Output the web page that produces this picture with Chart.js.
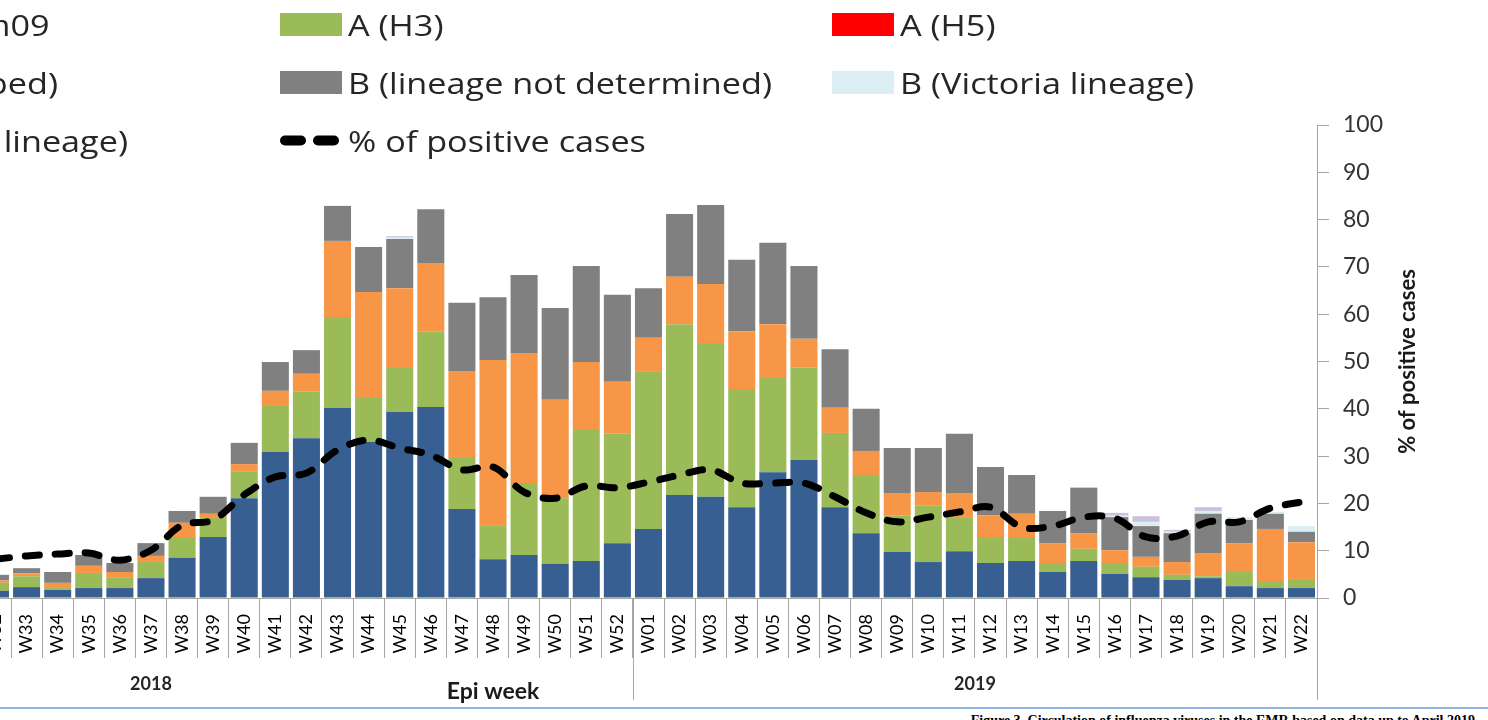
<!DOCTYPE html>
<html>
<head>
<meta charset="utf-8">
<title>Influenza viruses by epi week</title>
<script src="https://cdn.jsdelivr.net/npm/chart.js@4.4.1/dist/chart.umd.min.js"></script>
<style>
  html, body { margin: 0; padding: 0; background: #fff; }
  #wrap { position: relative; width: 1488px; height: 720px; overflow: hidden; font-family: Lato, sans-serif; }
  #myChart { position: absolute; left: -360px; top: 0; }
  #legend { position: absolute; left: 0; top: 0; width: 1488px; height: 170px; }
  .item { position: absolute; height: 30px; display: flex; align-items: center; white-space: nowrap; }
  .swatch { width: 62px; height: 23px; flex: none; }
  .label { margin-left: 6px; font-family: "Open Sans", sans-serif; font-size: 29px; color: #262626;
           transform: scaleX(1.18); transform-origin: left center; }
  #rule { position: absolute; left: 0; top: 707px; width: 1488px; height: 2px; background: #8db3e2; }
  #caption { position: absolute; right: 13px; top: 714px; font-family: "Liberation Serif", serif;
             font-weight: bold; font-size: 14px; line-height: 14px; color: #000; white-space: nowrap; }
</style>
</head>
<body>
<div id="wrap">
  <canvas id="myChart" width="1848" height="705"></canvas>
  <div id="legend"></div>
  <div id="rule"></div>
  <div id="caption">Figure 3. Circulation of influenza viruses in the EMR based on data up to April 2019</div>
</div>
<script>
// epi weeks 2018 W22 .. 2019 W22 (W22-W31 of 2018 are outside the picture, so no values)
const weekLabels = [
  'W22', 'W23', 'W24', 'W25', 'W26', 'W27', 'W28', 'W29', 'W30', 'W31',
  'W32', 'W33', 'W34', 'W35', 'W36', 'W37', 'W38', 'W39', 'W40', 'W41', 'W42',
  'W43', 'W44', 'W45', 'W46', 'W47', 'W48', 'W49', 'W50', 'W51', 'W52',
  'W01', 'W02', 'W03', 'W04', 'W05', 'W06', 'W07', 'W08', 'W09', 'W10', 'W11',
  'W12', 'W13', 'W14', 'W15', 'W16', 'W17', 'W18', 'W19', 'W20', 'W21', 'W22'
];
const yearLabels = ['2018', '2019'];
const yearWeekCounts = [31, 22];
const yTicks = [0, 100, 10];

const hidden = [null, null, null, null, null, null, null, null, null, null];

const h1n1 = hidden.concat([
  1.5, 2.3, 1.7, 2.1, 2.1, 4.2, 8.5, 12.9, 21.1, 30.9, 33.8,
  40.2, 33.0, 39.3, 40.4, 18.8, 8.2, 9.1, 7.2, 7.8, 11.6,
  14.6, 21.8, 21.4, 19.2, 26.6, 29.2, 19.2, 13.7, 9.7, 7.6, 9.9,
  7.4, 7.8, 5.5, 7.8, 5.1, 4.4, 3.8, 4.2, 2.5, 2.1, 2.1
]);
const h3 = hidden.concat([
  1.7, 2.3, 0.4, 3.2, 2.3, 3.6, 4.4, 4.2, 5.7, 9.7, 9.8,
  19.2, 9.3, 9.3, 16.0, 10.8, 7.2, 15.2, 13.9, 27.7, 23.1,
  33.2, 36.1, 32.5, 25.0, 19.9, 19.6, 15.7, 12.3, 7.8, 11.9, 7.2,
  5.5, 5.1, 1.9, 2.6, 2.3, 2.2, 1.1, 0.4, 3.0, 1.5, 1.9
]);
const h5 = hidden.concat([
  0, 0, 0, 0, 0, 0, 0, 0, 0, 0, 0,
  0, 0, 0, 0, 0, 0, 0, 0, 0, 0,
  0, 0, 0, 0, 0, 0, 0, 0, 0, 0, 0,
  0, 0, 0, 0, 0, 0, 0, 0, 0, 0, 0
]);
const notSubtyped = hidden.concat([
  0.5, 0.6, 1.1, 1.5, 1.1, 1.1, 3.0, 0.7, 1.5, 3.2, 3.8,
  16.1, 22.4, 16.9, 14.4, 18.4, 34.9, 27.5, 20.8, 14.4, 11.0,
  7.2, 10.0, 12.5, 12.2, 11.4, 6.0, 5.3, 5.1, 4.7, 2.9, 5.1,
  4.6, 4.9, 4.2, 3.3, 2.7, 2.1, 2.7, 4.9, 6.1, 11.0, 7.8
]);
const bNotDetermined = hidden.concat([
  1.2, 1.1, 2.3, 2.3, 1.9, 2.7, 2.5, 3.6, 4.5, 6.1, 5.0,
  7.4, 9.5, 10.4, 11.4, 14.4, 13.3, 16.5, 19.4, 20.3, 18.4,
  10.5, 13.3, 16.7, 15.1, 17.2, 15.4, 12.4, 8.9, 9.5, 9.3, 12.5,
  10.2, 8.2, 6.8, 9.6, 7.0, 6.5, 6.1, 8.3, 4.9, 3.2, 2.2
]);
const bVictoria = hidden.concat([
  0, 0, 0, 0, 0, 0, 0, 0, 0, 0, 0,
  0, 0, 0.3, 0, 0, 0, 0, 0, 0, 0,
  0, 0, 0, 0, 0, 0, 0, 0, 0, 0, 0,
  0, 0, 0, 0.2, 0.3, 0.9, 0.3, 0.6, 0.6, 0.4, 1.2
]);
const bYamagata = hidden.concat([
  0, 0, 0, 0, 0, 0, 0, 0, 0, 0, 0,
  0, 0, 0.3, 0, 0, 0, 0, 0, 0, 0,
  0, 0, 0, 0, 0, 0, 0, 0, 0, 0, 0,
  0, 0, 0, 0, 0.6, 1.2, 0.4, 0.8, 0, 0, 0
]);
const pctPositive = hidden.concat([
  8.2, 8.9, 9.3, 9.5, 8.0, 10.1, 15.4, 16.5, 21.8, 25.6, 26.4,
  31.3, 33.4, 31.7, 30.2, 27.1, 27.7, 22.4, 21.1, 23.7, 23.3,
  24.5, 26.0, 27.1, 24.3, 24.3, 24.3, 21.4, 18.0, 16.1, 17.1, 18.2,
  19.2, 15.0, 15.2, 17.1, 16.9, 12.9, 13.1, 16.1, 16.1, 19.0, 20.3
]);

const myChartElement = document.getElementById('myChart');
const axisColor = '#a6a6a6';

function barSet(label, data, color) {
  return { type: 'bar', label: label, data: data, backgroundColor: color, borderWidth: 0, order: 1,
           barPercentage: 0.87, categoryPercentage: 1 };
}

// year row, group separators and axis titles under the week labels
const groupAxisPlugin = {
  id: 'groupAxis',
  afterDraw(chart) {
    const ctx = chart.ctx;
    const xs = chart.scales.x;
    const ys = chart.scales.y;
    const pitch = xs.getPixelForValue(1) - xs.getPixelForValue(0);
    const top = xs.top;
    ctx.save();
    ctx.strokeStyle = axisColor;
    ctx.lineWidth = 1;
    let start = 0;
    yearLabels.forEach((year, i) => {
      const left = xs.getPixelForValue(start) - pitch / 2;
      const end = start + yearWeekCounts[i];
      const right = xs.getPixelForValue(end - 1) + pitch / 2;
      [left, right].forEach(px => {
        ctx.beginPath();
        ctx.moveTo(Math.round(px) + 0.5, top);
        ctx.lineTo(Math.round(px) + 0.5, top + 102);
        ctx.stroke();
      });
      ctx.fillStyle = '#262626';
      ctx.font = 'bold 18px Lato';
      ctx.textAlign = 'center';
      ctx.textBaseline = 'middle';
      ctx.fillText(year, (left + right) / 2, top + 86);
      start = end;
    });

    ctx.fillStyle = '#1a1a1a';
    ctx.font = 'bold 23px Lato';
    ctx.textAlign = 'center';
    ctx.textBaseline = 'middle';
    ctx.fillText('Epi week', (xs.left + xs.right) / 2, top + 94);

    ctx.translate(ys.left + 91, (ys.top + ys.bottom) / 2);
    ctx.rotate(-Math.PI / 2);
    ctx.font = 'bold 22px Lato';
    ctx.fillText('% of positive cases', 0, 0);
    ctx.restore();
  }
};

const myChart = new Chart(myChartElement, {
  data: {
    labels: weekLabels,
    datasets: [
      barSet('A (H1N1)pdm09', h1n1, '#375f91'),
      barSet('A (H3)', h3, '#9bbb59'),
      barSet('A (H5)', h5, '#ff0000'),
      barSet('A (not subtyped)', notSubtyped, '#f79646'),
      barSet('B (lineage not determined)', bNotDetermined, '#808080'),
      barSet('B (Victoria lineage)', bVictoria, '#dbeef4'),
      barSet('B (Yamagata lineage)', bYamagata, '#ccc1da'),
      {
        type: 'line',
        label: '% of positive cases',
        data: pctPositive,
        stack: 'pct',
        order: 0,
        borderColor: '#000',
        borderWidth: 7,
        borderDash: [14, 16],
        borderCapStyle: 'round',
        tension: 0.35,
        pointRadius: 0,
        fill: false
      }
    ]
  },
  options: {
    responsive: false,
    animation: false,
    devicePixelRatio: 1,
    layout: { padding: { left: 29, top: 125, right: 0, bottom: 0 } },
    plugins: {
      legend: { display: false },
      tooltip: { enabled: false }
    },
    scales: {
      x: {
        stacked: true,
        offset: true,
        grid: { offset: true, drawOnChartArea: false, drawTicks: true, tickLength: 60, color: axisColor },
        border: { display: true, color: axisColor },
        ticks: {
          autoSkip: false, minRotation: 90, maxRotation: 90, padding: -44,
          font: { family: 'Lato', size: 18 }, color: '#000'
        },
        afterFit: (scale) => { scale.height = 107; }
      },
      y: {
        position: 'right',
        stacked: true,
        min: yTicks[0],
        max: yTicks[1],
        ticks: { stepSize: yTicks[2], padding: 14, font: { family: 'Lato', size: 23 }, color: '#333' },
        grid: { drawOnChartArea: false, drawTicks: true, tickLength: 12, color: axisColor },
        border: { display: true, color: axisColor },
        afterFit: (scale) => { scale.width = 171; }
      }
    }
  },
  plugins: [groupAxisPlugin]
});

// legend laid out as a 3-column grid, like the original
function buildLegend() {
  const colX = [-272, 280, 832];
  const rowY = [24, 82, 140];
  const box = document.getElementById('legend');
  myChart.data.datasets.forEach((ds, i) => {
    const item = document.createElement('div');
    item.className = 'item';
    item.style.left = colX[i % 3] + 'px';
    item.style.top = (rowY[Math.floor(i / 3)] - 15) + 'px';
    let sw;
    if (ds.type === 'line') {
      sw = document.createElementNS('http://www.w3.org/2000/svg', 'svg');
      sw.setAttribute('width', '62');
      sw.setAttribute('height', '23');
      sw.style.flex = 'none';
      sw.innerHTML = '<line x1="0" y1="11.5" x2="58" y2="11.5" stroke="#000" stroke-width="10" ' +
        'stroke-linecap="round" stroke-dasharray="16 17" transform="translate(5,0)"/>';
    } else {
      sw = document.createElement('div');
      sw.className = 'swatch';
      sw.style.background = ds.backgroundColor;
    }
    const text = document.createElement('span');
    text.className = 'label';
    text.textContent = ds.label;
    item.appendChild(sw);
    item.appendChild(text);
    box.appendChild(item);
  });
}

buildLegend();
</script>
</body>
</html>
